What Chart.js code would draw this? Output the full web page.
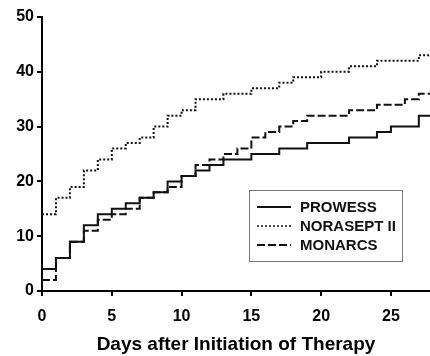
<!DOCTYPE html>
<html>
<head>
<meta charset="utf-8">
<script src="https://cdn.jsdelivr.net/npm/chart.js@4"></script>
<style>
  html, body { margin: 0; padding: 0; background: #fff; }
  #wrap { width: 430px; height: 356px; }
</style>
</head>
<body>
<div id="wrap"><canvas id="myChart"></canvas></div>
<script>
/* data: cumulative % by day */
const seriesNames = ['PROWESS', 'NORASEPT II', 'MONARCS'];

const prowessDays = [0, 1, 2, 3, 4, 5, 6, 7, 8, 9, 10, 11, 12, 13, 15, 17, 19, 22, 24, 25, 27, 27.8];
const prowessVals = [4, 6, 9, 12, 14, 15, 16, 17, 18, 20, 21, 22, 23, 24, 25, 26, 27, 28, 29, 30, 32, 32];

const noraseptDays = [0, 1, 2, 3, 4, 5, 6, 7, 8, 9, 10, 11, 13, 15, 17, 18, 20, 22, 24, 27, 27.8];
const noraseptVals = [14, 17, 19, 22, 24, 26, 27, 28, 30, 32, 33, 35, 36, 37, 38, 39, 40, 41, 42, 43, 43];

const monarcsDays = [0, 1, 2, 3, 4, 5, 6, 7, 8, 9, 10, 11, 12, 13, 14, 15, 16, 17, 18, 19, 22, 24, 26, 27, 27.8];
const monarcsVals = [2, 6, 9, 11, 13, 14, 15, 17, 18, 19, 21, 23, 24, 25, 26, 28, 29, 30, 31, 32, 33, 34, 35, 36, 36];

const xTitle = 'Days after Initiation of Therapy';

function toPoints(days, vals) {
    return days.map((d, i) => ({ x: d, y: vals[i] }));
}

const lineStyles = [
    { dash: [] },
    { dash: [2, 2] },
    { dash: [8, 3] }
];

/* legend drawn as a box inside the plot */
const boxLegend = {
    id: 'boxLegend',
    afterDraw(chart) {
        const ctx = chart.ctx;
        const bx = 249.5, by = 190.5, bw = 153, bh = 71;
        ctx.save();
        ctx.strokeStyle = '#777';
        ctx.lineWidth = 1;
        ctx.strokeRect(bx, by, bw, bh);
        ctx.font = 'bold 15px "Liberation Sans", Arial, sans-serif';
        ctx.fillStyle = '#111';
        ctx.textBaseline = 'middle';
        chart.data.datasets.forEach((ds, i) => {
            const yy = 207 + i * 19;
            ctx.strokeStyle = '#111';
            ctx.lineWidth = i === 1 ? 1.5 : 2;
            ctx.setLineDash(ds.borderDash);
            ctx.beginPath();
            ctx.moveTo(257, yy);
            ctx.lineTo(291, yy);
            ctx.stroke();
            ctx.setLineDash([]);
            ctx.fillText(ds.label, 300, yy + 1);
        });
        ctx.restore();
    }
};

const tickFont = { family: '"Liberation Sans", Arial, sans-serif', size: 16, weight: 'bold' };

const myChart = new Chart(document.getElementById('myChart'), {
    type: 'line',
    data: {
        datasets: [
            { label: seriesNames[0], data: toPoints(prowessDays, prowessVals) },
            { label: seriesNames[1], data: toPoints(noraseptDays, noraseptVals) },
            { label: seriesNames[2], data: toPoints(monarcsDays, monarcsVals) }
        ].map((ds, i) => Object.assign(ds, {
            borderColor: '#111',
            borderWidth: 2,
            borderDash: lineStyles[i].dash,
            stepped: 'before',
            pointRadius: 0,
            fill: false
        }))
    },
    options: {
        responsive: true,
        maintainAspectRatio: false,
        animation: false,
        layout: { padding: { top: 17, right: 0, left: 0, bottom: 0 } },
        plugins: {
            legend: { display: false },
            tooltip: { enabled: false }
        },
        scales: {
            x: {
                type: 'linear',
                min: 0,
                max: 27.8,
                border: { color: '#000', width: 2 },
                grid: { drawOnChartArea: false, color: '#000', lineWidth: 2, tickLength: 5 },
                ticks: { stepSize: 5, includeBounds: false, color: '#000', font: tickFont, padding: 11, maxRotation: 0 },
                title: {
                    display: true,
                    text: xTitle,
                    color: '#000',
                    font: { family: '"Liberation Sans", Arial, sans-serif', size: 19, weight: 'bold' },
                    padding: { top: 8, bottom: 0 }
                },
                afterFit(scale) { scale.height = 65; }
            },
            y: {
                min: 0,
                max: 50,
                border: { color: '#000', width: 2 },
                grid: { drawOnChartArea: false, color: '#000', lineWidth: 2, tickLength: 5 },
                ticks: { stepSize: 10, color: '#000', font: tickFont, padding: 3 },
                afterFit(scale) { scale.width = 42; }
            }
        }
    },
    plugins: [boxLegend]
});
</script>
</body>
</html>
